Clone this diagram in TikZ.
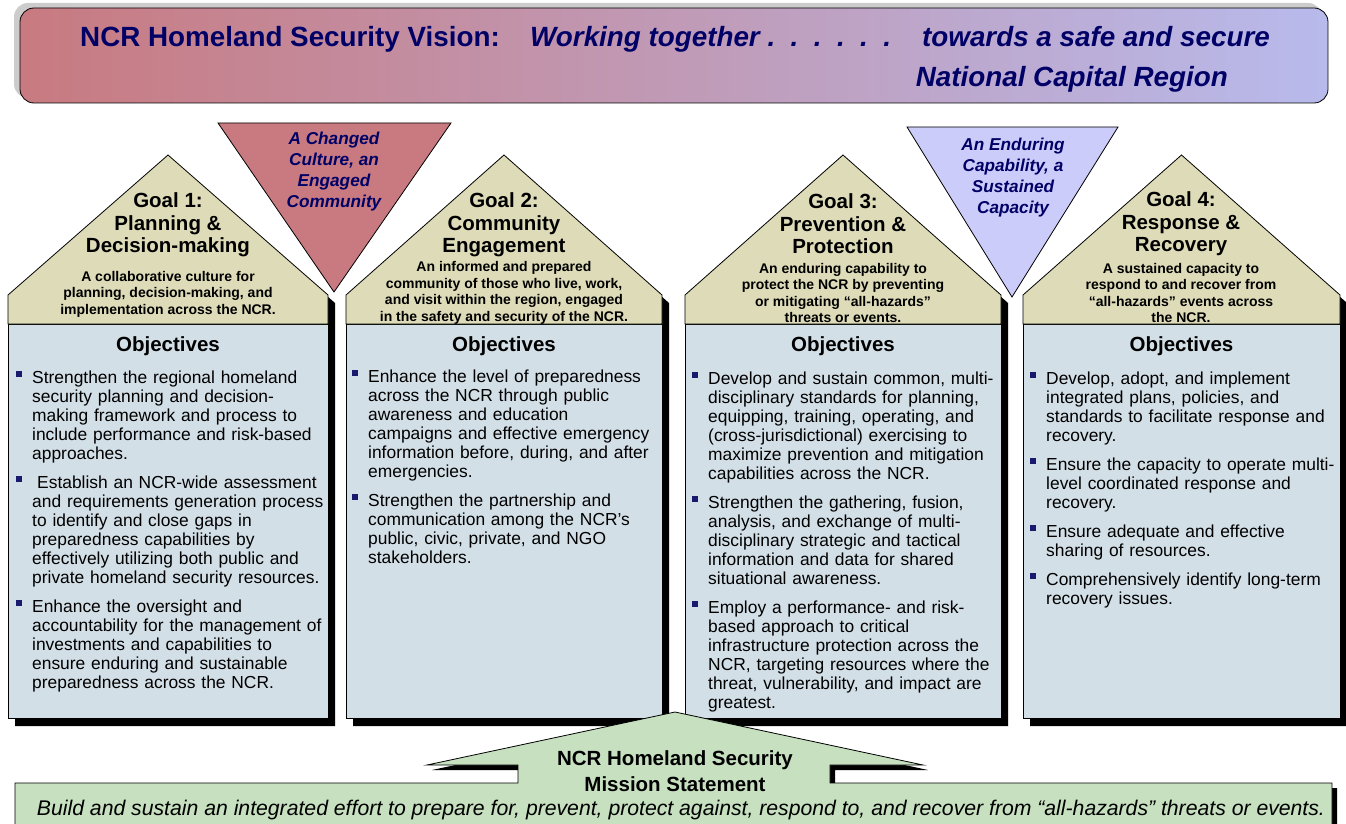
\documentclass[tikz,border=0pt]{standalone}
\usepackage{fontspec}
\setmainfont{Liberation Sans}
\usepackage{xcolor}
\usepackage{tikz}
\usetikzlibrary{positioning}
\setlength{\parindent}{0pt}

\definecolor{roofcol}{RGB}{222,220,184}
\definecolor{bodycol}{RGB}{211,223,231}
\definecolor{redtri}{RGB}{200,122,128}
\definecolor{bluetri}{RGB}{204,204,250}
\definecolor{navytext}{RGB}{0,0,102}
\definecolor{bulletcol}{RGB}{25,25,110}
\definecolor{missioncol}{RGB}{198,224,192}
\definecolor{bannerleft}{RGB}{200,122,128}
\definecolor{bannerright}{RGB}{184,186,236}

\newcommand{\bul}{\leavevmode\llap{\textcolor{bulletcol}{\rule[6.5pt]{6pt}{6pt}}\hspace{10.5pt}}}

\tikzset{
  roof/.style={draw=black, line width=0.8pt, fill=roofcol},
  objbox/.style={draw=black, line width=0.8pt, fill=bodycol},
  drop/.style={fill=black},
  visionhead/.style={font=\bfseries\fontsize{27.8}{40}\selectfont, text=navytext, inner sep=0pt},
  visionline/.style={visionhead, font=\bfseries\itshape\fontsize{27.8}{40}\selectfont},
  goalname/.style={font=\bfseries\fontsize{20.5}{22.5}\selectfont, align=center, inner sep=0pt},
  goalaim/.style={font=\bfseries\fontsize{14}{16.5}\selectfont, align=center, inner sep=0pt},
  objhead/.style={font=\bfseries\fontsize{20.5}{24}\selectfont, inner sep=0pt},
  objlist/.style={font=\fontsize{17.4}{19}\selectfont, align=left, text width=300pt, inner sep=0pt, anchor=north west},
  outcome/.style={draw=black, line width=0.8pt},
  outcomelabel/.style={font=\bfseries\itshape\fontsize{17.2}{21}\selectfont, text=navytext, align=center, inner sep=0pt},
  missionhead/.style={font=\bfseries\fontsize{20.5}{26}\selectfont, align=center, inner sep=0pt},
  missionline/.style={font=\itshape\fontsize{21.2}{24}\selectfont, inner sep=0pt},
}

\begin{document}
\begin{tikzpicture}[x=1pt, y=-1pt]
  \useasboundingbox (0,0) rectangle (1346,824);

  % vision banner
  \fill[gray!40, rounded corners=14pt] (14,3) rectangle (1322,98);
  \shade[left color=bannerleft, right color=bannerright, rounded corners=14pt] (20,8) rectangle (1328,103);
  \draw[line width=0.8pt, rounded corners=14pt] (20,8) rectangle (1328,103);
  \node[visionhead, anchor=base west] (vision) at (80,46.5) {NCR Homeland Security Vision:};
  \node[visionline, anchor=base west] (working) at (530,46.5) {Working together\ .\ \ .\ \ .\ \ .\ \ .\ \ .};
  \node[visionline, anchor=base east] (towards) at (1270,46.5) {towards a safe and secure};
  \node[visionline, anchor=base east] (region) at (1228,86.5) {National Capital Region};

  % the four goal houses
  \foreach \l/\r/\i in {8/328/1, 346/662/2, 685/1001/3, 1023/1340/4}
  {
  \fill[drop, shift={(7,8)}] (\l,295) -- ({(\l+\r)/2},155) -- (\r,295) -- (\r,718) -- (\l,718) -- cycle;
  \draw[objbox] (\l,324) rectangle (\r,718);
  \draw[roof] (\l,324) -- (\l,295) -- ({(\l+\r)/2},155) -- (\r,295) -- (\r,324) -- cycle;
  \node[objhead] (objhead\i) at ({(\l+\r)/2},346) {Objectives};
  }

  \node[goalname] (goal1) at (168,225) {Goal 1:\\Planning \&\\Decision-making};
  \node[goalname] (goal2) at (504,225) {Goal 2:\\Community\\Engagement};
  \node[goalname] (goal3) at (843,224) {Goal 3:\\Prevention \&\\Protection};
  \node[goalname] (goal4) at (1181,224) {Goal 4:\\Response \&\\Recovery};

  \node[goalaim] (aim1) at (168,294) {A collaborative culture for\\planning, decision-making, and\\implementation across the NCR.};
  \node[goalaim] (aim2) at (504,293) {An informed and prepared\\community of those who live, work,\\and visit within the region, engaged\\in the safety and security of the NCR.};
  \node[goalaim] (aim3) at (843,293) {An enduring capability to\\protect the NCR by preventing\\or mitigating “all-hazards”\\threats or events.};
  \node[goalaim] (aim4) at (1181,293) {A sustained capacity to\\respond to and recover from\\“all-hazards” events across\\the NCR.};

  \node[objlist] (obj1) at (32,371) {\bul Strengthen the regional homeland\\
    security planning and decision-\\
    making framework and process to\\
    include performance and risk-based\\
    approaches.\\[10pt]
    \bul\hspace{5pt}Establish an NCR-wide assessment\\
    and requirements generation process\\
    to identify and close gaps in\\
    preparedness capabilities by\\
    effectively utilizing both public and\\
    private homeland security resources.\\[10pt]
    \bul Enhance the oversight and\\
    accountability for the management of\\
    investments and capabilities to\\
    ensure enduring and sustainable\\
    preparedness across the NCR.};
  \node[objlist] (obj2) at (368,370) {\bul Enhance the level of preparedness\\
    across the NCR through public\\
    awareness and education\\
    campaigns and effective emergency\\
    information before, during, and after\\
    emergencies.\\[10pt]
    \bul Strengthen the partnership and\\
    communication among the NCR’s\\
    public, civic, private, and NGO\\
    stakeholders.};
  \node[objlist] (obj3) at (708,372) {\bul Develop and sustain common, multi-\\
    disciplinary standards for planning,\\
    equipping, training, operating, and\\
    (cross-jurisdictional) exercising to\\
    maximize prevention and mitigation\\
    capabilities across the NCR.\\[10pt]
    \bul Strengthen the gathering, fusion,\\
    analysis, and exchange of multi-\\
    disciplinary strategic and tactical\\
    information and data for shared\\
    situational awareness.\\[10pt]
    \bul Employ a performance- and risk-\\
    based approach to critical\\
    infrastructure protection across the\\
    NCR, targeting resources where the\\
    threat, vulnerability, and impact are\\
    greatest.};
  \node[objlist] (obj4) at (1046,372) {\bul Develop, adopt, and implement\\
    integrated plans, policies, and\\
    standards to facilitate response and\\
    recovery.\\[10pt]
    \bul Ensure the capacity to operate multi-\\
    level coordinated response and\\
    recovery.\\[10pt]
    \bul Ensure adequate and effective\\
    sharing of resources.\\[10pt]
    \bul Comprehensively identify long-term\\
    recovery issues.};

  % outcome triangles
  \draw[outcome, fill=redtri] (218,123) -- (451,123) -- (334,292) -- cycle;
  \node[outcomelabel] (culture) at (334,172) {A Changed\\Culture, an\\Engaged\\Community};
  \draw[outcome, fill=bluetri] (907,127) -- (1118,127) -- (1012,297) -- cycle;
  \node[outcomelabel] (capability) at (1013,178) {An Enduring\\Capability, a\\Sustained\\Capacity};

  % mission statement
  \fill[drop, shift={(5,5)}] (15,783) -- (518,783) -- (518,765) -- (427,765) -- (675,712) -- (923,765) -- (830,765) -- (830,783) -- (1332,783) -- (1332,840) -- (15,840) -- cycle;
  \draw[line width=0.8pt, fill=missioncol] (15,783) -- (518,783) -- (518,765) -- (427,765) -- (675,712) -- (923,765) -- (830,765) -- (830,783) -- (1332,783) -- (1332,840) -- (15,840) -- cycle;
  \node[missionhead] (mission) at (675,771) {NCR Homeland Security\\Mission Statement};
  \node[missionline] (statement) at (681,810) {Build and sustain an integrated effort to prepare for, prevent, protect against, respond to, and recover from “all-hazards” threats or events.};
\end{tikzpicture}
\end{document}
